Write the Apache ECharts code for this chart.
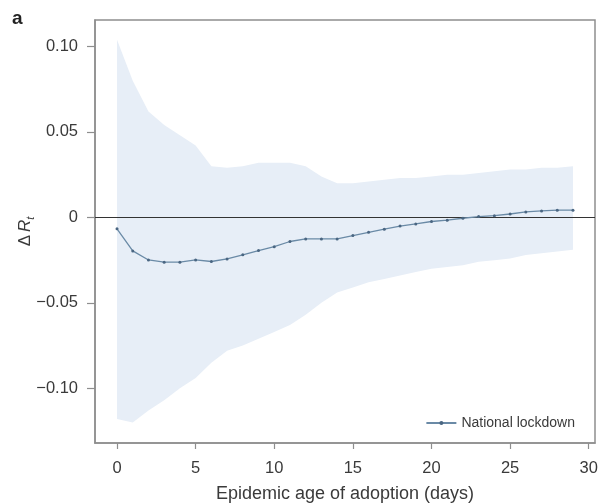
<!DOCTYPE html>
<html>
<head>
<meta charset="utf-8">
<script src="https://cdn.jsdelivr.net/npm/echarts@6/dist/echarts.min.js"></script>
<style>
  html, body { margin: 0; padding: 0; background: #fff; }
  #chart { width: 601px; height: 504px; }
</style>
</head>
<body>
<div id="chart"></div>
<script>
// Epidemic age of adoption (days)
const days = [0,1,2,3,4,5,6,7,8,9,10,11,12,13,14,15,16,17,18,19,20,21,22,23,24,25,26,27,28,29];

// Estimated change in R_t after a national lockdown
const meanEffect = [
  -0.0067, -0.0196, -0.0249, -0.0262, -0.0262, -0.0249, -0.0258, -0.0243, -0.0219, -0.0194,
  -0.0171, -0.0141, -0.0126, -0.0126, -0.0126, -0.0106, -0.0087, -0.0069, -0.0051, -0.0038,
  -0.0024, -0.0016, -0.0005, 0.0005, 0.0010, 0.0020, 0.0032, 0.0038, 0.0042, 0.0042
];

// Confidence band limits
const upperBound = [
  0.104, 0.080, 0.062, 0.054, 0.048, 0.042, 0.030, 0.029, 0.030, 0.032,
  0.032, 0.032, 0.030, 0.024, 0.020, 0.020, 0.021, 0.022, 0.023, 0.023,
  0.024, 0.025, 0.025, 0.026, 0.027, 0.028, 0.028, 0.029, 0.029, 0.030
];
const lowerBound = [
  -0.118, -0.120, -0.113, -0.107, -0.100, -0.094, -0.085, -0.078, -0.075, -0.071,
  -0.067, -0.063, -0.057, -0.050, -0.044, -0.041, -0.038, -0.036, -0.034, -0.032,
  -0.030, -0.029, -0.028, -0.026, -0.025, -0.024, -0.022, -0.021, -0.020, -0.019
];

const xTicks = [0, 5, 10, 15, 20, 25, 30];
const yTicks = [-0.10, -0.05, 0, 0.05, 0.10];
const seriesName = 'National lockdown';

const pairs = arr => days.map((d, i) => [d, arr[i]]);
const fmtY = v => v === 0 ? '0' : (v < 0 ? '\u2212' : '') + Math.abs(v).toFixed(2);

const frame = '#8e8e8e';
const textCol = '#3a3a3a';
const bandCol = '#e7eef7';
const font = 'Liberation Sans, Arial, Helvetica, sans-serif';

const chart = echarts.init(document.getElementById('chart'), null, { renderer: 'canvas' });
chart.setOption({
  animation: false,
  backgroundColor: '#fff',
  textStyle: { fontFamily: font },
  graphic: [{
    type: 'text', left: 12, top: 9,
    style: { text: 'a', font: 'bold 19px ' + font, fill: '#222' }
  }],
  grid: {
    left: 95, right: 6, top: 20, bottom: 61,
    outerBoundsMode: 'none', containLabel: false,
    show: true, borderColor: frame, borderWidth: 1.5, backgroundColor: 'transparent'
  },
  legend: {
    right: 21, bottom: 69,
    itemWidth: 30, itemHeight: 5, itemGap: 6,
    textStyle: { fontSize: 14, color: textCol, fontFamily: font },
    data: [seriesName]
  },
  xAxis: {
    type: 'value', min: -1.4, max: 30.4,
    name: 'Epidemic age of adoption (days)',
    nameLocation: 'middle', nameGap: 42, nameMoveOverlap: false,
    nameTextStyle: { fontSize: 18, color: textCol, fontFamily: font },
    axisLine: { onZero: false, lineStyle: { color: frame, width: 1.5 } },
    axisTick: { show: true, length: 6, customValues: xTicks, lineStyle: { color: frame, width: 1.2 } },
    axisLabel: { customValues: xTicks, fontSize: 16.5, color: textCol, margin: 17, fontFamily: font },
    splitLine: { show: false }
  },
  yAxis: {
    type: 'value', min: -0.132, max: 0.1155,
    name: '{d|\u0394}{r|R}{s|t}',
    nameLocation: 'middle', nameRotate: 90, nameGap: 61, nameMoveOverlap: false,
    nameTextStyle: {
      color: textCol, fontFamily: font,
      rich: {
        d: { fontSize: 17, color: textCol, fontFamily: font, padding: [0, 3, 0, 0] },
        r: { fontSize: 17, color: textCol, fontFamily: font, fontStyle: 'italic' },
        s: { fontSize: 11, color: textCol, fontFamily: font, fontStyle: 'italic', verticalAlign: 'bottom', padding: [0, 0, -2, 0] }
      }
    },
    axisLine: { show: true, onZero: false, lineStyle: { color: frame, width: 1.5 } },
    axisTick: { show: true, length: 8, customValues: yTicks, lineStyle: { color: frame, width: 1.2 } },
    axisLabel: { customValues: yTicks, formatter: fmtY, fontSize: 16.5, color: textCol, margin: 17, fontFamily: font },
    splitLine: { show: false }
  },
  series: [
    {
      // upper half of the band, filled down to zero
      name: 'upper', type: 'line', data: pairs(upperBound),
      symbol: 'none', lineStyle: { width: 0, opacity: 0 },
      areaStyle: { color: bandCol, opacity: 1, origin: 0 },
      silent: true, z: 1
    },
    {
      // lower half of the band, filled up to zero
      name: 'lower', type: 'line', data: pairs(lowerBound),
      symbol: 'none', lineStyle: { width: 0, opacity: 0 },
      areaStyle: { color: bandCol, opacity: 1, origin: 0 },
      silent: true, z: 1
    },
    {
      name: seriesName, type: 'line', data: pairs(meanEffect),
      symbol: 'circle', symbolSize: 3, showSymbol: true,
      itemStyle: { color: '#4a6682' },
      lineStyle: { color: '#6a8aa6', width: 1.3 },
      z: 5,
      markLine: {
        silent: true, symbol: 'none', label: { show: false },
        lineStyle: { color: '#333', width: 1, type: 'solid' },
        data: [{ yAxis: 0 }]
      }
    }
  ]
});
</script>
</body>
</html>
